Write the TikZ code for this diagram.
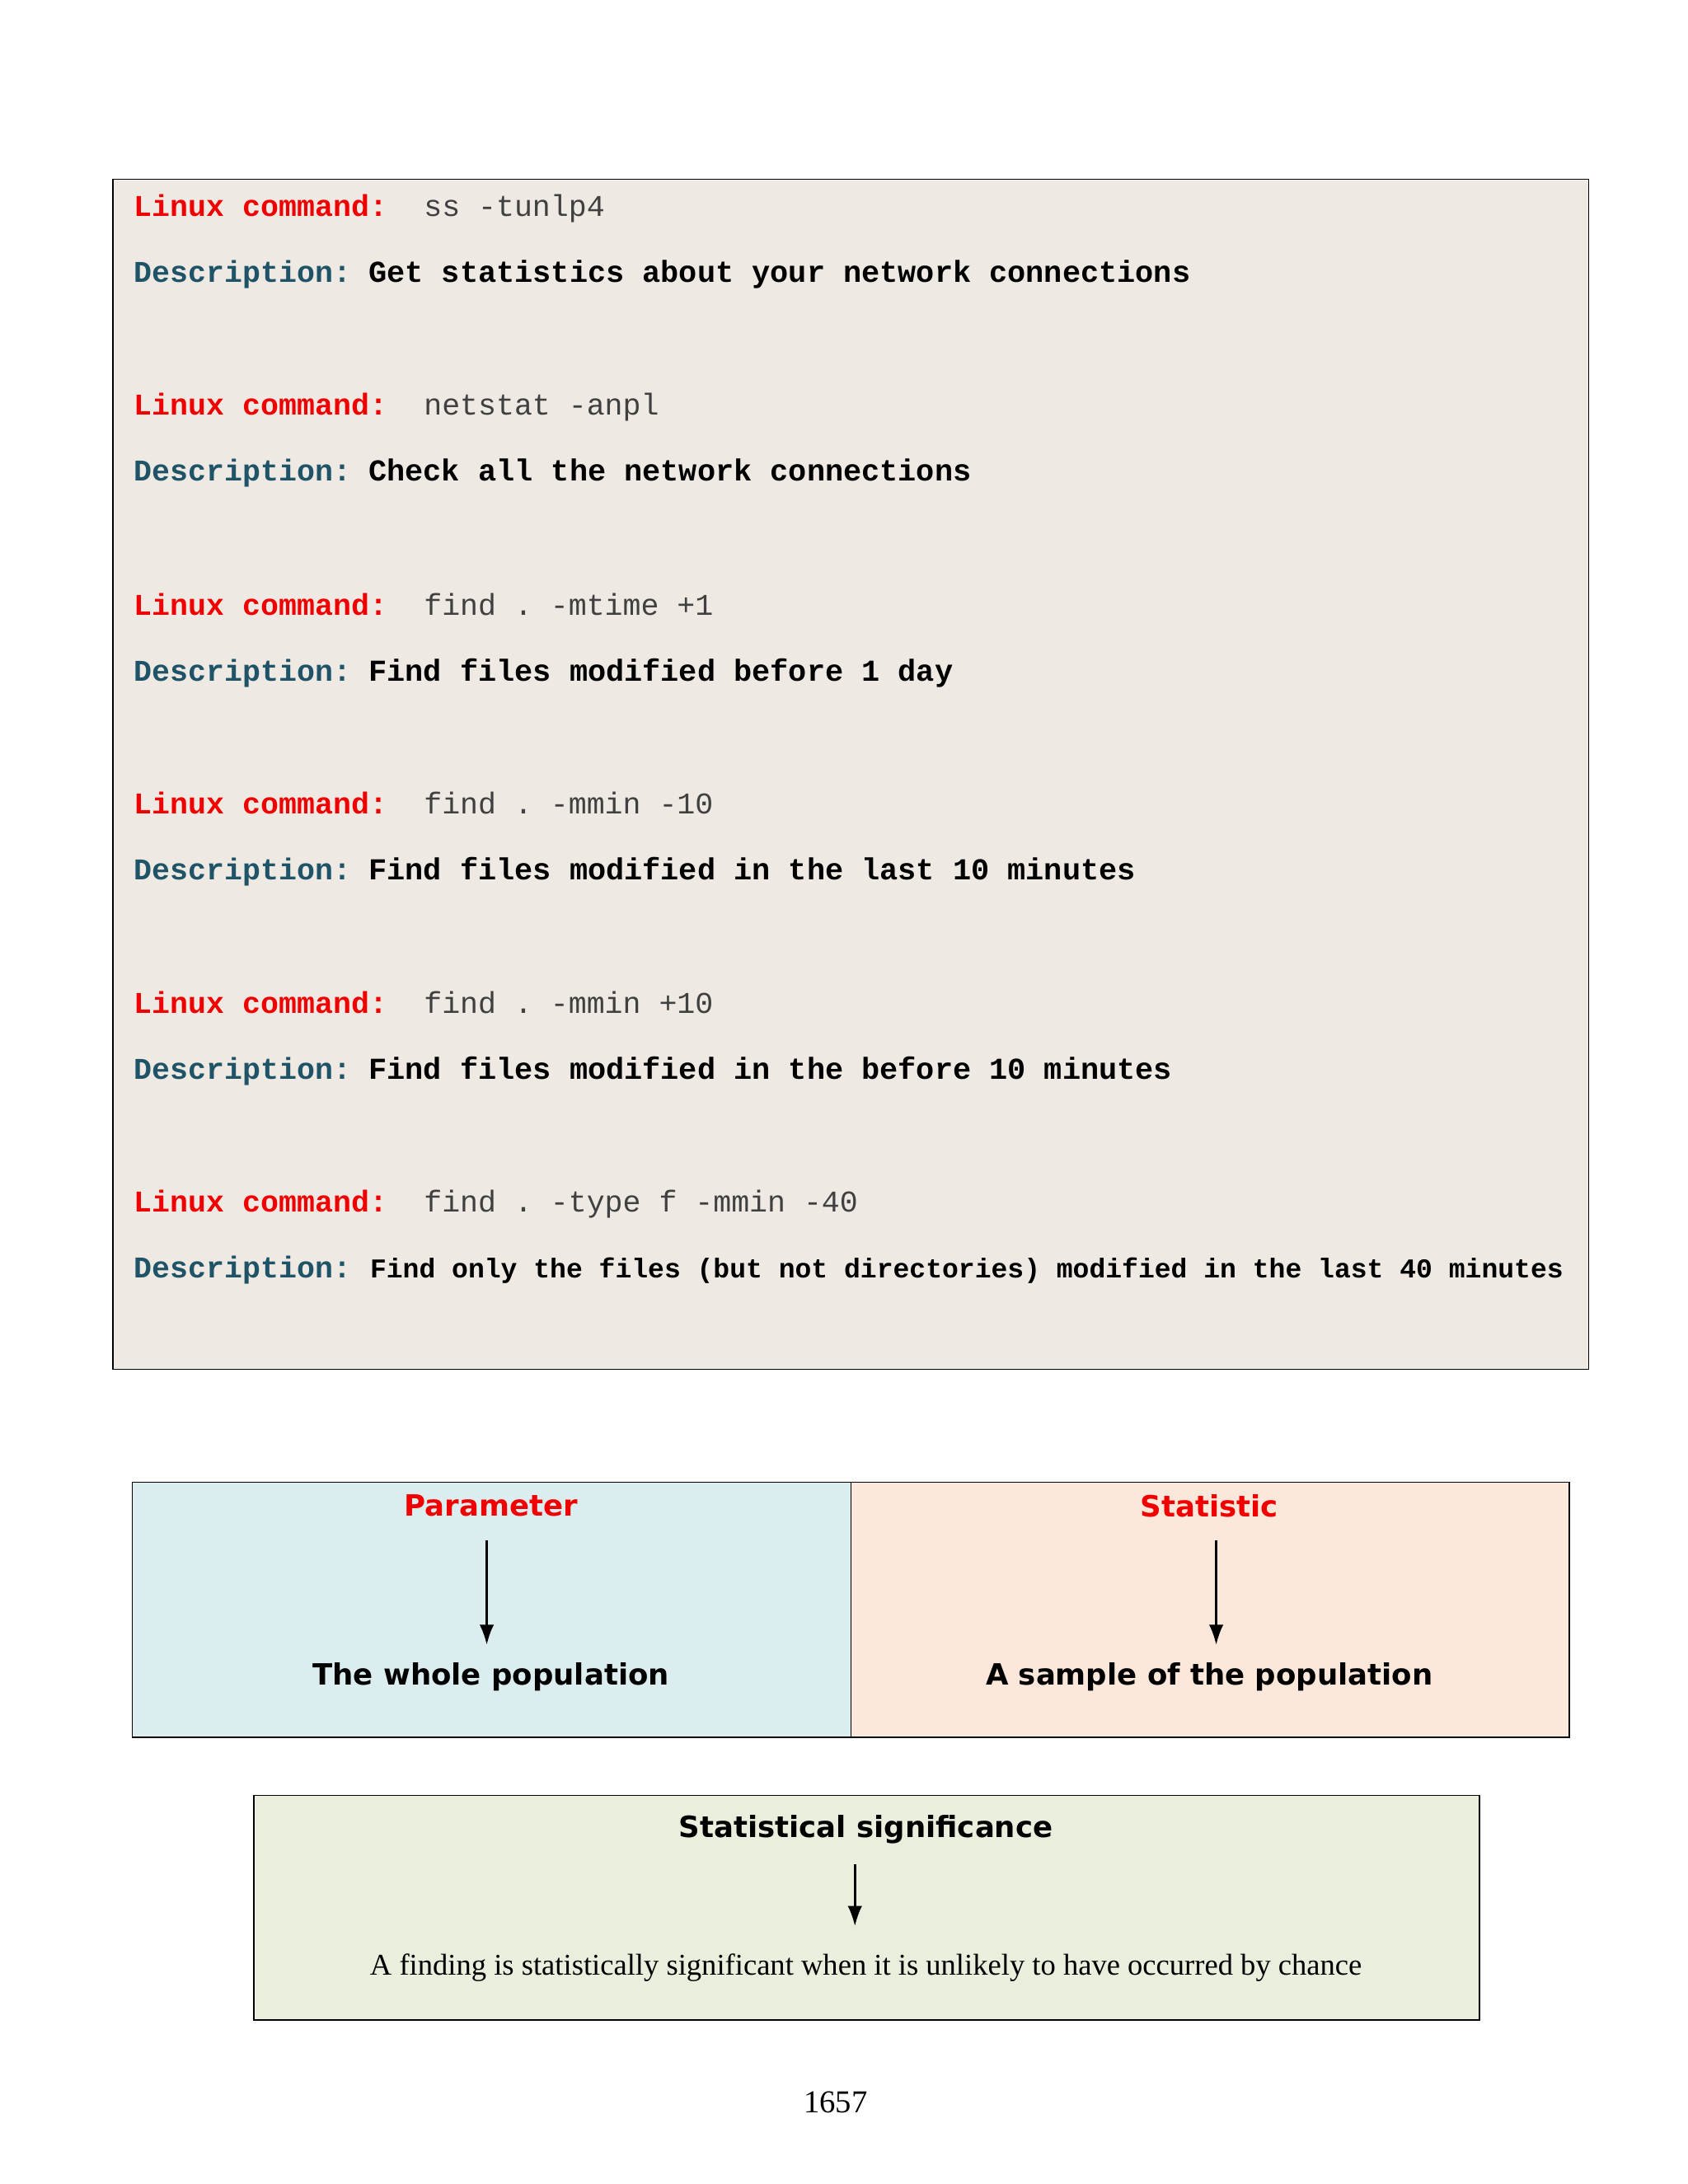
\documentclass[tikz,border=0pt]{standalone}
\usepackage{fontspec}
\setmainfont{Liberation Serif}
\setmonofont{Liberation Mono}
\setsansfont{DejaVu Sans}
\usepackage{tikz}
\usetikzlibrary{arrows.meta}

\definecolor{cmdred}{HTML}{F00000}
\definecolor{desccol}{HTML}{1F5468}
\definecolor{cmdgray}{HTML}{404040}
\definecolor{termbg}{HTML}{EFE9E3}
\definecolor{parbg}{HTML}{DCEDF0}
\definecolor{statbg}{HTML}{FBE8DA}
\definecolor{sigbg}{HTML}{E9EEDD}

\tikzset{
  lbl/.style={anchor=base west, inner sep=0pt, font=\ttfamily\bfseries\fontsize{10.4}{12}\selectfont},
  cmdtxt/.style={anchor=base west, inner sep=0pt, text=cmdgray, font=\ttfamily\fontsize{10.4}{12}\selectfont},
  desctxt/.style={anchor=base west, inner sep=0pt, font=\ttfamily\bfseries\fontsize{10.5}{12}\selectfont},
  head/.style={inner sep=0pt, font=\sffamily\bfseries\fontsize{10.1}{12}\selectfont},
  arr/.style={-{Latex[length=7pt,width=5pt]}, thick}
}

\begin{document}
\begin{tikzpicture}[x=0.01673cm, y=-0.01673cm]
        \useasboundingbox (0,0) rectangle (1224,1584);

        % terminal box
        \draw[fill=termbg] (82,130) rectangle (1152,993);
        \foreach \y/\cmd/\desc in {
            157/{ss -tunlp4}/{Get statistics about your network connections},
            301/{netstat -anpl}/{Check all the network connections},
            446/{find . -mtime +1}/{Find files modified before 1 day},
            590/{find . -mmin -10}/{Find files modified in the last 10 minutes},
            735/{find . -mmin +10}/{Find files modified in the before 10 minutes},
            879/{find . -type f -mmin -40}/{}}{
          \node[lbl, text=cmdred] at (97,\y) {Linux command:};
          \node[cmdtxt] at (307,\y) {\cmd};
          \node[lbl, text=desccol] at (97,\y+48) {Description:};
          \node[desctxt] at (267,\y+48) {\desc};
        }
        \node[desctxt, font=\ttfamily\bfseries\fontsize{9.4}{12}\selectfont] at (268,927) {Find only the files (but not directories) modified in the last 40 minutes};

        % parameter / statistic
        \draw[fill=parbg] (96,1075) rectangle (617,1260);
        \draw[fill=statbg] (617,1075) rectangle (1138,1260);
        \node[head, text=cmdred] (param) at (356,1092) {Parameter};
        \node[head] (whole) at (356,1216) {The whole population};
        \node[head, text=cmdred] (stat) at (877,1092) {Statistic};
        \node[head] (sample) at (877,1216) {A sample of the population};
        \draw[arr] (353,1117) coordinate (p1) -- (353,1193) coordinate (p2);
        \draw[arr] (882,1117) coordinate (s1) -- (882,1193) coordinate (s2);

        % significance
        \draw[fill=sigbg] (184,1302) rectangle (1073,1465);
        \node[head] (sig) at (628,1327) {Statistical significance};
        \node[inner sep=0pt, font=\fontsize{10.4}{12}\selectfont] (find) at (628,1427) {A finding is statistically significant when it is unlikely to have occurred by chance};
        \draw[arr] (620,1352) coordinate (g1) -- (620,1397) coordinate (g2);

        \node[font=\fontsize{11}{13}\selectfont] (page) at (606,1525) {1657};
\end{tikzpicture}
\end{document}
